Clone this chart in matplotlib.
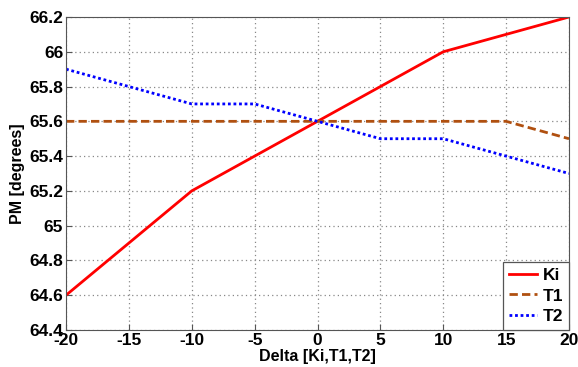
import matplotlib
matplotlib.use('Agg')
import matplotlib.pyplot as plt

delta = [-20, -15, -10, -5, 0, 5, 10, 15, 20]
ki = [64.6, 64.9, 65.2, 65.4, 65.6, 65.8, 66.0, 66.1, 66.2]
t1 = [65.6, 65.6, 65.6, 65.6, 65.6, 65.6, 65.6, 65.6, 65.5]
t2 = [65.9, 65.8, 65.7, 65.7, 65.6, 65.5, 65.5, 65.4, 65.3]
yticks = [64.4, 64.6, 64.8, 65, 65.2, 65.4, 65.6, 65.8, 66, 66.2]
ylabels = ['64.4', '64.6', '64.8', '65', '65.2', '65.4', '65.6', '65.8', '66', '66.2']

plt.rcParams['font.family'] = 'Liberation Sans'
plt.rcParams['font.weight'] = 'bold'
plt.rcParams['axes.unicode_minus'] = False

fig = plt.figure(figsize=(5.78, 3.67), dpi=100)
ax = fig.add_axes([66/578, 1 - 330/367, (569-66)/578, (330-17)/367])

ax.plot(delta, ki, color='#ff0000', lw=2, label='Ki')
ax.plot(delta, t1, color='#b05010', lw=2, ls=(0, (3, 1.5)), label='T1')
ax.plot(delta, t2, color='#0000ff', lw=2, ls=(0, (1, 1)), label='T2')

ax.set_xlim(-20, 20)
ax.set_ylim(64.4, 66.2)
ax.set_xticks(range(-20, 21, 5))
ax.set_xticklabels([str(v) for v in range(-20, 21, 5)])
ax.set_yticks(yticks)
ax.set_yticklabels(ylabels)
ax.tick_params(direction='in', labelsize=12.5, length=4, pad=2, color='#555555')
for lab in ax.get_xticklabels() + ax.get_yticklabels():
    lab.set_fontweight('bold')
ax.grid(True, ls=(0, (1, 2.5)), color='#888888', lw=0.9)
for s in ax.spines.values():
    s.set_color('#555555')

ax.set_xlabel('Delta [Ki,T1,T2]', fontsize=11.5, fontweight='bold', labelpad=1)
ax.set_ylabel('PM [degrees]', fontsize=11.5, fontweight='bold', labelpad=3)

leg = ax.legend(loc='lower right', fontsize=12.5, fancybox=False, framealpha=1,
                edgecolor='#555555', borderaxespad=0, handlelength=1.6,
                borderpad=0.35, labelspacing=0.3, handletextpad=0.3)
leg.get_frame().set_linewidth(0.9)
for t in leg.get_texts():
    t.set_fontweight('bold')

fig.savefig('out.png', dpi=100)
